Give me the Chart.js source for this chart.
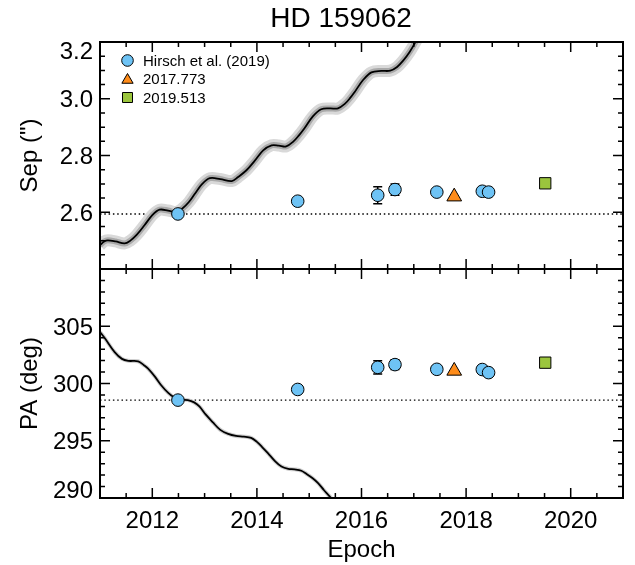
<!DOCTYPE html>
<html>
<head>
<meta charset="utf-8">
<script src="https://cdn.jsdelivr.net/npm/chart.js@4.4.1/dist/chart.umd.min.js"></script>
<style>
  html, body { margin: 0; padding: 0; background: #fff; }
  #wrap { position: relative; width: 635px; height: 565px; }
  #wrap canvas { position: absolute; left: 0; top: 0; }
</style>
</head>
<body>
<div id="wrap">
  <canvas id="paChart" width="635" height="565"></canvas>
  <canvas id="sepChart" width="635" height="565"></canvas>
</div>
<script>
const FONT = '"Liberation Sans", Arial, Helvetica, sans-serif';
const BLUE = '#6ec3f5';
const ORANGE = '#ff8c1a';
const GREEN = '#9bc53d';

// Hirsch et al. (2019)
const hirschEpoch = [2012.49, 2014.78, 2016.31, 2016.64, 2017.44, 2018.31, 2018.43];
const hirschSep = [2.594, 2.639, 2.660, 2.680, 2.671, 2.674, 2.671];
const hirschSepErr = [0.004, 0.005, 0.030, 0.020, 0.005, 0.005, 0.005];
const hirschPA = [298.55, 299.48, 301.41, 301.65, 301.24, 301.22, 300.95];
const hirschPAErr = [0.10, 0.10, 0.57, 0.43, 0.10, 0.10, 0.10];

// new epochs
const epoch2017 = 2017.773;
const sep2017 = 2.655;
const pa2017 = 301.10;
const epoch2019 = 2019.513;
const sep2019 = 2.702;
const pa2019 = 301.82;

// reference level (first epoch)
const sepRef = 2.594;
const paRef = 298.55;

// orbit model tracks
const modelSepEpoch = [2011.00, 2011.08, 2011.15, 2011.30, 2011.47, 2011.58, 2011.70, 2011.85,
  2012.00, 2012.14, 2012.30, 2012.46, 2012.58, 2012.70, 2012.81, 2012.95, 2013.10, 2013.30,
  2013.52, 2013.64, 2013.80, 2013.96, 2014.12, 2014.28, 2014.42, 2014.56, 2014.70, 2014.80,
  2014.91, 2015.07, 2015.23, 2015.40, 2015.55, 2015.68, 2015.78, 2015.87, 2016.03, 2016.19,
  2016.38, 2016.55, 2016.68, 2016.80, 2016.92, 2017.02, 2017.12];
const modelSep = [2.484, 2.497, 2.501, 2.497, 2.490, 2.500, 2.520, 2.554,
  2.590, 2.609, 2.606, 2.601, 2.614, 2.636, 2.664, 2.699, 2.720, 2.717,
  2.710, 2.724, 2.748, 2.782, 2.818, 2.836, 2.835, 2.832, 2.850, 2.870,
  2.896, 2.938, 2.963, 2.966, 2.966, 2.982, 3.002, 3.024, 3.066, 3.093,
  3.098, 3.099, 3.112, 3.135, 3.165, 3.196, 3.230];

const modelPAEpoch = [2011.00, 2011.10, 2011.28, 2011.42, 2011.54, 2011.73, 2011.84, 2011.92,
  2012.05, 2012.17, 2012.30, 2012.40, 2012.55, 2012.68, 2012.80, 2012.90, 2013.02, 2013.16,
  2013.30, 2013.45, 2013.60, 2013.75, 2013.89, 2014.00, 2014.10, 2014.21, 2014.35, 2014.47,
  2014.60, 2014.72, 2014.85, 2014.95, 2015.06, 2015.17, 2015.28, 2015.39, 2015.48];
const modelPA = [304.50, 303.90, 302.74, 302.15, 301.98, 301.94, 301.60, 301.30,
  300.60, 299.85, 299.20, 298.84, 298.60, 298.55, 298.35, 298.00, 297.30, 296.60,
  295.95, 295.60, 295.42, 295.36, 295.25, 294.90, 294.45, 293.92, 293.20, 292.75,
  292.55, 292.50, 292.38, 292.10, 291.75, 291.30, 290.70, 290.14, 289.60];

// axes
const xMin = 2011, xMax = 2021;
const sepMin = 2.4, sepMax = 3.2;
const paMin = 290, paMax = 310;
const xTickValues = [2012, 2014, 2016, 2018, 2020];
const xTickLabels = ['2012', '2014', '2016', '2018', '2020'];
const sepTickValues = [2.6, 2.8, 3.0, 3.2];
const sepTickLabels = ['2.6', '2.8', '3.0', '3.2'];
const paTickValues = [290, 295, 300, 305];
const paTickLabels = ['290', '295', '300', '305'];

const toXY = (xs, ys) => xs.map((x, i) => ({ x, y: ys[i] }));

function drawFrame(chart, cfg) {
    const { ctx, chartArea: a, scales: { x, y } } = chart;
    ctx.save();
    ctx.strokeStyle = '#000';
    ctx.lineWidth = 1.5;
    ctx.beginPath();
    // x ticks every half year, long ones every two years
    for (let i = 0; i <= 20; i++) {
        const px = x.getPixelForValue(xMin + i * 0.5);
        const len = (i % 4 === 2) ? 10 : 5;
        ctx.moveTo(px, a.top); ctx.lineTo(px, a.top + len);
        ctx.moveTo(px, a.bottom); ctx.lineTo(px, a.bottom - len);
    }
    for (let i = 0; i <= cfg.minorCount; i++) {
        const py = y.getPixelForValue(cfg.min + i * cfg.minorStep);
        const len = (i % cfg.minorPerMajor === 0) ? 10 : 5;
        ctx.moveTo(a.left, py); ctx.lineTo(a.left + len, py);
        ctx.moveTo(a.right, py); ctx.lineTo(a.right - len, py);
    }
    ctx.stroke();
    ctx.lineWidth = 2;
    ctx.strokeRect(a.left, a.top, a.right - a.left, a.bottom - a.top);

    // y tick labels, kept inside the panel at the edges
    ctx.fillStyle = '#000';
    ctx.font = '24px ' + FONT;
    ctx.textAlign = 'right';
    ctx.textBaseline = 'alphabetic';
    cfg.tickValues.forEach((v, i) => {
        let py = y.getPixelForValue(v);
        py = Math.min(Math.max(py, a.top + 8.5), a.bottom - 8.5);
        ctx.fillText(cfg.tickLabels[i], a.left - 7, py + 8.5);
    });

    // y title
    ctx.save();
    ctx.translate(37, (a.top + a.bottom) / 2);
    ctx.rotate(-Math.PI / 2);
    ctx.textAlign = 'center';
    ctx.fillText(cfg.title, 0, 0);
    ctx.restore();
    ctx.restore();
}

function drawErrorBars(chart, xs, ys, errs) {
    const { ctx, scales: { x, y } } = chart;
    ctx.save();
    ctx.strokeStyle = '#000';
    ctx.lineWidth = 1.5;
    ctx.beginPath();
    xs.forEach((ep, i) => {
        const px = x.getPixelForValue(ep);
        const lo = y.getPixelForValue(ys[i] - errs[i]);
        const hi = y.getPixelForValue(ys[i] + errs[i]);
        ctx.moveTo(px, lo); ctx.lineTo(px, hi);
        ctx.moveTo(px - 4.5, lo); ctx.lineTo(px + 4.5, lo);
        ctx.moveTo(px - 4.5, hi); ctx.lineTo(px + 4.5, hi);
    });
    ctx.stroke();
    ctx.restore();
}

function drawLegend(ctx) {
    ctx.save();
    ctx.strokeStyle = '#000';
    ctx.lineWidth = 1;
    // circle
    ctx.fillStyle = BLUE;
    ctx.beginPath(); ctx.arc(127.5, 60.5, 5.8, 0, Math.PI * 2); ctx.fill(); ctx.stroke();
    // triangle
    const r = 6.5, cx = 127.5, cy = 80;
    ctx.fillStyle = ORANGE;
    ctx.beginPath();
    ctx.moveTo(cx, cy - r);
    ctx.lineTo(cx + r * Math.sin(Math.PI * 2 / 3), cy + r / 2);
    ctx.lineTo(cx - r * Math.sin(Math.PI * 2 / 3), cy + r / 2);
    ctx.closePath(); ctx.fill(); ctx.stroke();
    // square
    ctx.fillStyle = GREEN;
    ctx.beginPath(); ctx.rect(122.5, 92.5, 10, 10); ctx.fill(); ctx.stroke();

    ctx.fillStyle = '#000';
    ctx.font = '15px ' + FONT;
    ctx.textAlign = 'left';
    ctx.textBaseline = 'alphabetic';
    ctx.fillText('Hirsch et al. (2019)', 143, 66);
    ctx.fillText('2017.773', 143, 84);
    ctx.fillText('2019.513', 143, 103);
    ctx.restore();
}

function panelDatasets(ys, val2017, val2019, modelX, modelY, ref, bands) {
    const curve = { showLine: true, pointRadius: 0, tension: 0.35, clip: 0 };
    const sets = [
        { data: toXY(hirschEpoch, ys), pointStyle: 'circle', pointRadius: 6.3,
          backgroundColor: BLUE, borderColor: '#000', borderWidth: 1, order: 0 },
        { data: [{ x: epoch2017, y: val2017 }], pointStyle: 'triangle', pointRadius: 8.5,
          backgroundColor: ORANGE, borderColor: '#000', borderWidth: 1, order: 0 },
        { data: [{ x: epoch2019, y: val2019 }], pointStyle: 'rect', pointRadius: 8,
          backgroundColor: GREEN, borderColor: '#000', borderWidth: 1, order: 0 },
        { ...curve, data: toXY(modelX, modelY), borderColor: '#000', borderWidth: 1.8, order: 1 }
    ];
    bands.forEach((b, i) => {
        sets.push({ ...curve, data: toXY(modelX, modelY), borderColor: b.color,
            borderWidth: b.width, order: 2 + i });
    });
    sets.push({ data: [{ x: xMin, y: ref }, { x: xMax, y: ref }], showLine: true, pointRadius: 0,
        borderColor: '#000', borderWidth: 1.4, borderDash: [1.5, 2.8], clip: 0, order: 9 });
    return sets;
}

function baseOptions(padding, yMin, yMax) {
    return {
        responsive: false,
        animation: false,
        events: [],
        layout: { padding },
        plugins: { legend: { display: false }, title: { display: false }, tooltip: { enabled: false } },
        scales: {
            x: { type: 'linear', min: xMin, max: xMax, display: false },
            y: { type: 'linear', min: yMin, max: yMax, display: false }
        }
    };
}

new Chart(document.getElementById('sepChart'), {
    type: 'scatter',
    data: {
        datasets: panelDatasets(hirschSep, sep2017, sep2019, modelSepEpoch, modelSep, sepRef,
            [{ color: '#a9a9a9', width: 6 }, { color: '#d9d9d9', width: 12 }])
    },
    options: baseOptions({ top: 42, left: 100, right: 12, bottom: 296 }, sepMin, sepMax),
    plugins: [{
        id: 'sepFrame',
        beforeDatasetDraw(chart, args) {
            if (args.index === 0) drawErrorBars(chart, hirschEpoch, hirschSep, hirschSepErr);
        },
        afterDraw(chart) {
            drawFrame(chart, { min: sepMin, minorStep: 0.05, minorCount: 16, minorPerMajor: 4,
                tickValues: sepTickValues, tickLabels: sepTickLabels, title: 'Sep (")' });
            drawLegend(chart.ctx);
            const ctx = chart.ctx;
            ctx.save();
            ctx.fillStyle = '#000';
            ctx.font = '28px ' + FONT;
            ctx.textAlign = 'center';
            ctx.textBaseline = 'alphabetic';
            ctx.fillText('HD 159062', 341, 27);
            ctx.restore();
        }
    }]
});

new Chart(document.getElementById('paChart'), {
    type: 'scatter',
    data: {
        datasets: panelDatasets(hirschPA, pa2017, pa2019, modelPAEpoch, modelPA, paRef,
            [{ color: '#cfcfcf', width: 4 }])
    },
    options: baseOptions({ top: 269, left: 100, right: 12, bottom: 67 }, paMin, paMax),
    plugins: [{
        id: 'paFrame',
        beforeDatasetDraw(chart, args) {
            if (args.index === 0) drawErrorBars(chart, hirschEpoch, hirschPA, hirschPAErr);
        },
        afterDraw(chart) {
            drawFrame(chart, { min: paMin, minorStep: 1, minorCount: 20, minorPerMajor: 5,
                tickValues: paTickValues, tickLabels: paTickLabels, title: 'PA (deg)' });
            const { ctx, scales: { x } } = chart;
            ctx.save();
            ctx.fillStyle = '#000';
            ctx.font = '24px ' + FONT;
            ctx.textAlign = 'center';
            ctx.textBaseline = 'alphabetic';
            xTickValues.forEach((v, i) => ctx.fillText(xTickLabels[i], x.getPixelForValue(v), 528));
            ctx.fillText('Epoch', (chart.chartArea.left + chart.chartArea.right) / 2, 557);
            ctx.restore();
        }
    }]
});
</script>
</body>
</html>
